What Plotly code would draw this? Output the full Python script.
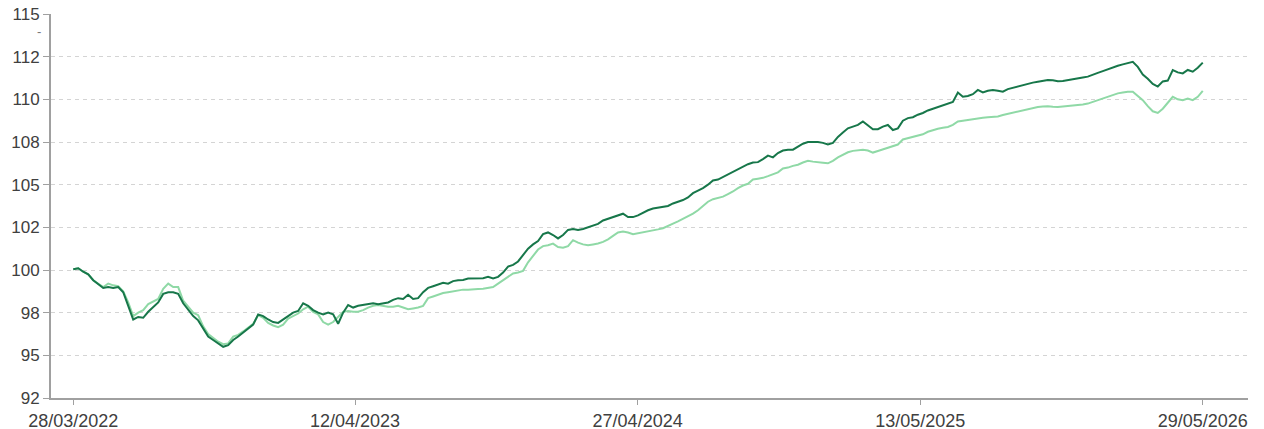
import pandas as pd
import plotly.graph_objects as go

start_date = "2022-03-28"
end_date = "2026-05-29"

dark_values = [
    100.05, 100.1, 99.9, 99.75, 99.4, 99.2, 98.95, 99.0, 98.95, 99.0,
    98.7, 97.9, 97.1, 97.25, 97.2, 97.55, 97.8, 98.1, 98.6, 98.7,
    98.7, 98.6, 98.05, 97.7, 97.3, 97.05, 96.6, 96.1, 95.9, 95.7,
    95.5, 95.6, 95.9, 96.1, 96.35, 96.6, 96.8, 97.4, 97.3, 97.1,
    96.95, 96.9, 97.1, 97.25, 97.5, 97.6, 98.05, 97.9, 97.65, 97.5,
    97.4, 97.5, 97.4, 96.85, 97.5, 97.95, 97.8, 97.9, 97.95, 98.0,
    98.05, 98.0, 98.05, 98.1, 98.25, 98.35, 98.3, 98.55, 98.3, 98.35,
    98.7, 98.95, 99.05, 99.15, 99.25, 99.2, 99.35, 99.4, 99.42, 99.5,
    99.5, 99.5, 99.52, 99.6, 99.5, 99.6, 99.85, 100.2, 100.3, 100.5,
    100.85, 101.25, 101.5, 101.7, 102.1, 102.2, 102.05, 101.85, 102.05, 102.35,
    102.4, 102.35, 102.4, 102.5, 102.6, 102.7, 102.9, 103.0, 103.1, 103.2,
    103.3, 103.1, 103.1, 103.2, 103.35, 103.5, 103.6, 103.65, 103.7, 103.75,
    103.9, 104.0, 104.1, 104.25, 104.5, 104.65, 104.8, 105.0, 105.25, 105.3,
    105.45, 105.6, 105.75, 105.9, 106.05, 106.2, 106.3, 106.32, 106.5, 106.7,
    106.6, 106.85, 107.0, 107.05, 107.05, 107.25, 107.4, 107.5, 107.5, 107.5,
    107.45, 107.35, 107.45, 107.8, 108.05, 108.3, 108.4, 108.5, 108.7, 108.45,
    108.25, 108.25, 108.4, 108.5, 108.2, 108.3, 108.75, 108.9, 108.95, 109.1,
    109.2, 109.35, 109.45, 109.55, 109.65, 109.75, 109.85, 110.4, 110.15, 110.2,
    110.3, 110.55, 110.4, 110.5, 110.55, 110.5, 110.45, 110.6, 110.68, 110.73,
    110.82, 110.92, 110.98, 111.03, 111.08, 111.13, 111.12, 111.06, 111.08, 111.14,
    111.18, 111.23, 111.28, 111.33, 111.42, 111.55, 111.65, 111.77, 111.87, 111.97,
    112.05, 112.12, 112.2, 111.9, 111.45, 111.2, 110.9, 110.75, 111.05, 111.1,
    111.72, 111.58, 111.52, 111.72, 111.62, 111.85, 112.15,
]

light_values = [
    100.05, 100.1, 99.9, 99.75, 99.4, 99.2, 99.0, 99.2, 99.1, 99.05,
    98.75, 98.1, 97.3, 97.5, 97.65, 98.0, 98.15, 98.3, 98.9, 99.2,
    99.0, 99.0, 98.2, 97.85, 97.5, 97.35, 96.7, 96.25, 96.0, 95.8,
    95.65, 95.7, 96.1, 96.2, 96.4, 96.6, 96.85, 97.35, 97.2, 96.9,
    96.75, 96.65, 96.8, 97.15, 97.3, 97.45, 97.7, 97.85, 97.55, 97.4,
    96.95, 96.8, 96.95, 97.25, 97.55, 97.6, 97.55, 97.55, 97.65, 97.8,
    97.9, 97.95, 97.9, 97.85, 97.85, 97.9, 97.8, 97.7, 97.75, 97.8,
    97.9, 98.35, 98.45, 98.55, 98.65, 98.7, 98.75, 98.8, 98.85, 98.85,
    98.85, 98.88, 98.9, 98.95, 99.0, 99.2, 99.4, 99.6, 99.8, 99.85,
    99.95, 100.45, 100.8, 101.2, 101.4, 101.45, 101.55, 101.35, 101.3, 101.4,
    101.75, 101.6, 101.5, 101.45, 101.5, 101.55, 101.65, 101.8, 102.0, 102.2,
    102.25, 102.2, 102.1, 102.15, 102.22, 102.28, 102.33, 102.38, 102.45, 102.6,
    102.72, 102.85, 103.0, 103.15, 103.3, 103.5, 103.75, 104.0, 104.15, 104.22,
    104.3, 104.45, 104.6, 104.8, 104.95, 105.05, 105.3, 105.35, 105.4, 105.5,
    105.6, 105.72, 105.95, 106.0, 106.1, 106.17, 106.3, 106.4, 106.35, 106.3,
    106.28, 106.25, 106.4, 106.6, 106.75, 106.9, 106.98, 107.03, 107.05, 107.0,
    106.88, 106.97, 107.07, 107.17, 107.25, 107.35, 107.65, 107.72, 107.8, 107.85,
    107.95, 108.1, 108.2, 108.28, 108.33, 108.38, 108.5, 108.7, 108.75, 108.8,
    108.85, 108.9, 108.92, 108.95, 108.98, 109.0, 109.08, 109.15, 109.22, 109.3,
    109.35, 109.4, 109.5, 109.55, 109.58, 109.6, 109.57, 109.55, 109.58, 109.6,
    109.63, 109.65, 109.7, 109.75, 109.85, 109.95, 110.05, 110.15, 110.25, 110.35,
    110.4, 110.45, 110.45, 110.2, 109.95, 109.6, 109.3, 109.2, 109.45, 109.8,
    110.15, 110.0, 109.95, 110.05, 109.95, 110.15, 110.5,
]

x_tick_dates = ["2022-03-28", "2023-04-12", "2024-04-27", "2025-05-13", "2026-05-29"]
x_tick_labels = ["28/03/2022", "12/04/2023", "27/04/2024", "13/05/2025", "29/05/2026"]
y_tick_values = [92.5, 95, 97.5, 100, 102.5, 105, 107.5, 110, 112.5, 115]
y_tick_labels = ["92", "95", "98", "100", "102", "105", "108", "110", "112", "115"]

assert len(dark_values) == len(light_values)
dates = pd.date_range(start_date, end_date, periods=len(dark_values))

DARK = "#17774a"
LIGHT = "#8fd9a6"
AXIS = "#a0a0a0"
TEXT = "#404040"
FONT = "Liberation Sans, Arial, sans-serif"

fig = go.Figure()
fig.add_trace(go.Scatter(x=dates, y=light_values, mode="lines",
                         line=dict(color=LIGHT, width=2), showlegend=False))
fig.add_trace(go.Scatter(x=dates, y=dark_values, mode="lines",
                         line=dict(color=DARK, width=2), showlegend=False))

# page body has an 8px default margin, so the figure is sized/offset to compensate
fig.update_layout(
    width=1256, height=421,
    margin=dict(l=43, r=16, t=6, b=31, autoexpand=False),
    paper_bgcolor="white", plot_bgcolor="white",
    font=dict(family=FONT, size=17, color=TEXT),
    xaxis=dict(
        type="date", automargin=False,
        range=["2022-02-26", "2026-07-29"],
        tickmode="array", tickvals=x_tick_dates, ticktext=x_tick_labels,
        showgrid=False, zeroline=False,
        showline=True, linecolor=AXIS, linewidth=2,
        ticks="outside", ticklen=5, tickcolor=AXIS, tickwidth=1,
        tickfont=dict(size=18, color=TEXT),
        ticklabeloverflow="allow",
    ),
    yaxis=dict(
        automargin=False,
        range=[92.5, 115],
        tickmode="array", tickvals=y_tick_values, ticktext=y_tick_labels,
        showgrid=True, gridcolor="#d4d4d4", gridwidth=1, griddash="4px,4px",
        zeroline=False,
        showline=True, linecolor=AXIS, linewidth=2,
        ticks="outside", ticklen=6, tickcolor=AXIS, tickwidth=1,
        tickfont=dict(size=17, color=TEXT),
        ticklabeloverflow="allow",
    ),
)

fig.add_annotation(text="-", xref="paper", yref="y", x=0, y=113.95,
                   xanchor="right", xshift=-8, showarrow=False,
                   font=dict(size=13, color="#777777"))

fig.write_html("out.html")
